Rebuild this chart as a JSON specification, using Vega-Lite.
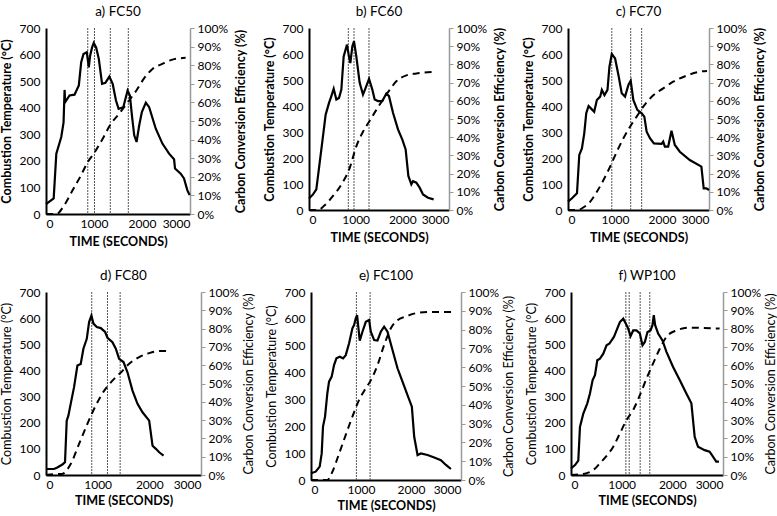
{
"$schema": "https://vega.github.io/schema/vega-lite/v6.json",
"background": "white",
"padding": {"left": 0, "top": 4, "right": 0, "bottom": 0},
"spacing": 20,
"config": {
  "view": {"stroke": null},
  "font": "Lato",
  "axis": {"labelFont": "Lato", "titleFont": "Lato", "labelFontSize": 12, "titleFontSize": 12.5, "labelColor": "black", "titleColor": "black", "grid": false},
  "axisX": {"format": "d"},
  "axisRight": {"titleBaseline": "top"},
  "title": {"font": "Lato", "fontSize": 13.5, "fontWeight": "normal", "color": "black", "offset": 4},
  "concat": {"spacing": 16}
},
"datasets": {
"temp": [
{"p":"a","t":0,"v":37},{"p":"a","t":160,"v":59},{"p":"a","t":215,"v":227},{"p":"a","t":318,"v":290},{"p":"a","t":366,"v":345},{"p":"a","t":387,"v":467},{"p":"a","t":400,"v":421},{"p":"a","t":490,"v":446},{"p":"a","t":594,"v":449},{"p":"a","t":684,"v":484},{"p":"a","t":733,"v":571},{"p":"a","t":781,"v":602},{"p":"a","t":850,"v":609},{"p":"a","t":891,"v":552},{"p":"a","t":919,"v":596},{"p":"a","t":960,"v":627},{"p":"a","t":995,"v":644},{"p":"a","t":1044,"v":627},{"p":"a","t":1100,"v":584},{"p":"a","t":1168,"v":490},{"p":"a","t":1237,"v":494},{"p":"a","t":1320,"v":517},{"p":"a","t":1389,"v":490},{"p":"a","t":1458,"v":427},{"p":"a","t":1513,"v":396},{"p":"a","t":1610,"v":402},{"p":"a","t":1700,"v":465},{"p":"a","t":1748,"v":446},{"p":"a","t":1790,"v":371},{"p":"a","t":1838,"v":296},{"p":"a","t":1887,"v":271},{"p":"a","t":1942,"v":334},{"p":"a","t":1997,"v":384},{"p":"a","t":2080,"v":419},{"p":"a","t":2149,"v":402},{"p":"a","t":2287,"v":321},{"p":"a","t":2425,"v":265},{"p":"a","t":2564,"v":227},{"p":"a","t":2668,"v":206},{"p":"a","t":2688,"v":171},{"p":"a","t":2806,"v":152},{"p":"a","t":2875,"v":134},{"p":"a","t":2944,"v":90},{"p":"a","t":2992,"v":71},
{"p":"b","t":0,"v":44},{"p":"b","t":86,"v":60},{"p":"b","t":157,"v":79},{"p":"b","t":229,"v":182},{"p":"b","t":300,"v":284},{"p":"b","t":357,"v":367},{"p":"b","t":429,"v":412},{"p":"b","t":479,"v":438},{"p":"b","t":529,"v":466},{"p":"b","t":586,"v":425},{"p":"b","t":643,"v":431},{"p":"b","t":693,"v":463},{"p":"b","t":743,"v":591},{"p":"b","t":814,"v":636},{"p":"b","t":857,"v":590},{"p":"b","t":886,"v":565},{"p":"b","t":929,"v":630},{"p":"b","t":964,"v":649},{"p":"b","t":1014,"v":591},{"p":"b","t":1086,"v":489},{"p":"b","t":1157,"v":444},{"p":"b","t":1214,"v":470},{"p":"b","t":1286,"v":504},{"p":"b","t":1357,"v":463},{"p":"b","t":1407,"v":425},{"p":"b","t":1479,"v":419},{"p":"b","t":1571,"v":419},{"p":"b","t":1657,"v":448},{"p":"b","t":1714,"v":438},{"p":"b","t":1800,"v":374},{"p":"b","t":1907,"v":310},{"p":"b","t":2000,"v":271},{"p":"b","t":2071,"v":233},{"p":"b","t":2129,"v":131},{"p":"b","t":2193,"v":99},{"p":"b","t":2229,"v":111},{"p":"b","t":2300,"v":105},{"p":"b","t":2371,"v":86},{"p":"b","t":2443,"v":60},{"p":"b","t":2550,"v":47},{"p":"b","t":2671,"v":41},
{"p":"c","t":0,"v":32},{"p":"c","t":85,"v":45},{"p":"c","t":191,"v":64},{"p":"c","t":240,"v":212},{"p":"c","t":296,"v":237},{"p":"c","t":346,"v":295},{"p":"c","t":388,"v":372},{"p":"c","t":438,"v":400},{"p":"c","t":508,"v":387},{"p":"c","t":557,"v":378},{"p":"c","t":614,"v":423},{"p":"c","t":685,"v":436},{"p":"c","t":720,"v":462},{"p":"c","t":776,"v":442},{"p":"c","t":840,"v":462},{"p":"c","t":882,"v":551},{"p":"c","t":932,"v":600},{"p":"c","t":1002,"v":583},{"p":"c","t":1073,"v":519},{"p":"c","t":1143,"v":449},{"p":"c","t":1214,"v":436},{"p":"c","t":1285,"v":481},{"p":"c","t":1334,"v":497},{"p":"c","t":1390,"v":423},{"p":"c","t":1475,"v":385},{"p":"c","t":1567,"v":372},{"p":"c","t":1624,"v":359},{"p":"c","t":1673,"v":301},{"p":"c","t":1744,"v":276},{"p":"c","t":1828,"v":256},{"p":"c","t":1991,"v":254},{"p":"c","t":2026,"v":263},{"p":"c","t":2061,"v":244},{"p":"c","t":2132,"v":244},{"p":"c","t":2202,"v":305},{"p":"c","t":2273,"v":250},{"p":"c","t":2379,"v":224},{"p":"c","t":2591,"v":192},{"p":"c","t":2838,"v":167},{"p":"c","t":2887,"v":83},{"p":"c","t":2944,"v":83},{"p":"c","t":3000,"v":77},
{"p":"d","t":0,"v":23},{"p":"d","t":155,"v":23},{"p":"d","t":220,"v":29},{"p":"d","t":317,"v":40},{"p":"d","t":368,"v":49},{"p":"d","t":401,"v":208},{"p":"d","t":433,"v":227},{"p":"d","t":478,"v":272},{"p":"d","t":543,"v":336},{"p":"d","t":608,"v":419},{"p":"d","t":672,"v":425},{"p":"d","t":724,"v":483},{"p":"d","t":789,"v":521},{"p":"d","t":834,"v":585},{"p":"d","t":879,"v":610},{"p":"d","t":918,"v":579},{"p":"d","t":983,"v":566},{"p":"d","t":1060,"v":562},{"p":"d","t":1144,"v":547},{"p":"d","t":1190,"v":525},{"p":"d","t":1286,"v":508},{"p":"d","t":1351,"v":483},{"p":"d","t":1415,"v":444},{"p":"d","t":1500,"v":432},{"p":"d","t":1577,"v":393},{"p":"d","t":1674,"v":323},{"p":"d","t":1771,"v":272},{"p":"d","t":1868,"v":240},{"p":"d","t":1997,"v":208},{"p":"d","t":2062,"v":112},{"p":"d","t":2127,"v":100},{"p":"d","t":2191,"v":87},{"p":"d","t":2275,"v":74},
{"p":"e","t":0,"v":25},{"p":"e","t":94,"v":31},{"p":"e","t":174,"v":50},{"p":"e","t":214,"v":99},{"p":"e","t":240,"v":199},{"p":"e","t":281,"v":236},{"p":"e","t":327,"v":323},{"p":"e","t":361,"v":366},{"p":"e","t":414,"v":385},{"p":"e","t":461,"v":428},{"p":"e","t":508,"v":453},{"p":"e","t":574,"v":459},{"p":"e","t":641,"v":453},{"p":"e","t":695,"v":465},{"p":"e","t":762,"v":509},{"p":"e","t":828,"v":565},{"p":"e","t":862,"v":577},{"p":"e","t":895,"v":602},{"p":"e","t":922,"v":614},{"p":"e","t":949,"v":565},{"p":"e","t":975,"v":519},{"p":"e","t":1029,"v":552},{"p":"e","t":1096,"v":589},{"p":"e","t":1162,"v":596},{"p":"e","t":1196,"v":552},{"p":"e","t":1263,"v":521},{"p":"e","t":1329,"v":519},{"p":"e","t":1396,"v":552},{"p":"e","t":1463,"v":571},{"p":"e","t":1530,"v":552},{"p":"e","t":1630,"v":484},{"p":"e","t":1730,"v":416},{"p":"e","t":1830,"v":366},{"p":"e","t":1930,"v":316},{"p":"e","t":2017,"v":273},{"p":"e","t":2064,"v":161},{"p":"e","t":2131,"v":93},{"p":"e","t":2198,"v":99},{"p":"e","t":2331,"v":93},{"p":"e","t":2465,"v":84},{"p":"e","t":2598,"v":74},{"p":"e","t":2699,"v":56},{"p":"e","t":2799,"v":41},
{"p":"f","t":0,"v":25},{"p":"f","t":79,"v":38},{"p":"f","t":144,"v":55},{"p":"f","t":177,"v":184},{"p":"f","t":243,"v":235},{"p":"f","t":322,"v":274},{"p":"f","t":374,"v":312},{"p":"f","t":427,"v":363},{"p":"f","t":473,"v":382},{"p":"f","t":519,"v":439},{"p":"f","t":571,"v":445},{"p":"f","t":637,"v":464},{"p":"f","t":702,"v":496},{"p":"f","t":755,"v":502},{"p":"f","t":801,"v":515},{"p":"f","t":847,"v":528},{"p":"f","t":913,"v":560},{"p":"f","t":965,"v":585},{"p":"f","t":1031,"v":598},{"p":"f","t":1083,"v":579},{"p":"f","t":1129,"v":560},{"p":"f","t":1175,"v":531},{"p":"f","t":1227,"v":553},{"p":"f","t":1293,"v":553},{"p":"f","t":1359,"v":541},{"p":"f","t":1411,"v":496},{"p":"f","t":1457,"v":509},{"p":"f","t":1510,"v":547},{"p":"f","t":1569,"v":553},{"p":"f","t":1608,"v":573},{"p":"f","t":1634,"v":611},{"p":"f","t":1661,"v":573},{"p":"f","t":1720,"v":541},{"p":"f","t":1805,"v":515},{"p":"f","t":1884,"v":471},{"p":"f","t":2015,"v":413},{"p":"f","t":2146,"v":363},{"p":"f","t":2277,"v":312},{"p":"f","t":2376,"v":274},{"p":"f","t":2441,"v":146},{"p":"f","t":2507,"v":108},{"p":"f","t":2638,"v":95},{"p":"f","t":2736,"v":89},{"p":"f","t":2802,"v":70},{"p":"f","t":2867,"v":51},{"p":"f","t":2920,"v":51}
],
"cce": [
{"p":"a","t":0,"v":0},{"p":"a","t":214,"v":0},{"p":"a","t":387,"v":0.05},{"p":"a","t":560,"v":0.13},{"p":"a","t":733,"v":0.21},{"p":"a","t":871,"v":0.28},{"p":"a","t":1009,"v":0.33},{"p":"a","t":1182,"v":0.405},{"p":"a","t":1355,"v":0.486},{"p":"a","t":1527,"v":0.54},{"p":"a","t":1700,"v":0.6},{"p":"a","t":1873,"v":0.66},{"p":"a","t":2046,"v":0.73},{"p":"a","t":2218,"v":0.78},{"p":"a","t":2425,"v":0.807},{"p":"a","t":2633,"v":0.83},{"p":"a","t":2909,"v":0.84},
{"p":"b","t":0,"v":0},{"p":"b","t":193,"v":0},{"p":"b","t":336,"v":0.026},{"p":"b","t":514,"v":0.077},{"p":"b","t":693,"v":0.14},{"p":"b","t":871,"v":0.23},{"p":"b","t":1014,"v":0.35},{"p":"b","t":1157,"v":0.43},{"p":"b","t":1300,"v":0.49},{"p":"b","t":1443,"v":0.55},{"p":"b","t":1586,"v":0.607},{"p":"b","t":1729,"v":0.66},{"p":"b","t":1871,"v":0.707},{"p":"b","t":2086,"v":0.74},{"p":"b","t":2300,"v":0.75},{"p":"b","t":2657,"v":0.759},
{"p":"c","t":0,"v":0},{"p":"c","t":200,"v":0},{"p":"c","t":332,"v":0.015},{"p":"c","t":473,"v":0.046},{"p":"c","t":614,"v":0.1},{"p":"c","t":755,"v":0.165},{"p":"c","t":896,"v":0.238},{"p":"c","t":1037,"v":0.32},{"p":"c","t":1179,"v":0.394},{"p":"c","t":1320,"v":0.458},{"p":"c","t":1461,"v":0.513},{"p":"c","t":1602,"v":0.568},{"p":"c","t":1814,"v":0.63},{"p":"c","t":2026,"v":0.668},{"p":"c","t":2238,"v":0.705},{"p":"c","t":2520,"v":0.738},{"p":"c","t":2802,"v":0.76},{"p":"c","t":2958,"v":0.764},
{"p":"d","t":0,"v":0},{"p":"d","t":187,"v":0.005},{"p":"d","t":300,"v":0.005},{"p":"d","t":478,"v":0.06},{"p":"d","t":640,"v":0.17},{"p":"d","t":802,"v":0.28},{"p":"d","t":963,"v":0.38},{"p":"d","t":1125,"v":0.46},{"p":"d","t":1286,"v":0.516},{"p":"d","t":1448,"v":0.56},{"p":"d","t":1610,"v":0.608},{"p":"d","t":1804,"v":0.644},{"p":"d","t":1997,"v":0.666},{"p":"d","t":2191,"v":0.677},{"p":"d","t":2385,"v":0.677},
{"p":"e","t":0,"v":0},{"p":"e","t":327,"v":0},{"p":"e","t":428,"v":0.044},{"p":"e","t":561,"v":0.14},{"p":"e","t":695,"v":0.24},{"p":"e","t":828,"v":0.337},{"p":"e","t":962,"v":0.426},{"p":"e","t":1096,"v":0.488},{"p":"e","t":1196,"v":0.53},{"p":"e","t":1329,"v":0.61},{"p":"e","t":1463,"v":0.718},{"p":"e","t":1597,"v":0.807},{"p":"e","t":1730,"v":0.85},{"p":"e","t":1897,"v":0.87},{"p":"e","t":2097,"v":0.887},{"p":"e","t":2364,"v":0.894},{"p":"e","t":2699,"v":0.894},{"p":"e","t":2899,"v":0.894},
{"p":"f","t":0,"v":0},{"p":"f","t":308,"v":0.01},{"p":"f","t":440,"v":0.027},{"p":"f","t":571,"v":0.064},{"p":"f","t":702,"v":0.104},{"p":"f","t":834,"v":0.155},{"p":"f","t":965,"v":0.227},{"p":"f","t":1096,"v":0.3},{"p":"f","t":1227,"v":0.355},{"p":"f","t":1359,"v":0.436},{"p":"f","t":1490,"v":0.527},{"p":"f","t":1621,"v":0.61},{"p":"f","t":1752,"v":0.69},{"p":"f","t":1884,"v":0.755},{"p":"f","t":2080,"v":0.79},{"p":"f","t":2343,"v":0.805},{"p":"f","t":2605,"v":0.804},{"p":"f","t":2933,"v":0.8}
],
"vl": [
{"p":"a","t":870},{"p":"a","t":1010},{"p":"a","t":1340},{"p":"a","t":1715},
{"p":"b","t":843},{"p":"b","t":964},{"p":"b","t":1286},
{"p":"c","t":932},{"p":"c","t":1334},{"p":"c","t":1567},
{"p":"d","t":885},{"p":"d","t":1190},{"p":"d","t":1435},
{"p":"e","t":908},{"p":"e","t":1182},
{"p":"f","t":1083},{"p":"f","t":1149},{"p":"f","t":1365},{"p":"f","t":1555}
]
},
"vconcat": [
{"hconcat": [
{"width": 144, "height": 186, "title": "a) FC50",
 "layer": [
  {"data": {"name": "vl"}, "transform": [{"filter": "datum.p == 'a'"}], "mark": {"type": "rule", "color": "#555", "strokeWidth": 1, "strokeDash": [2, 1]}, "encoding": {"x": {"field": "t", "type": "quantitative", "scale": {"domain": [0, 3000]}}}},
  {"data": {"name": "temp"}, "transform": [{"filter": "datum.p == 'a'"}], "mark": {"type": "line", "color": "black", "strokeWidth": 2.2}, "encoding": {
    "x": {"field": "t", "type": "quantitative", "scale": {"domain": [0, 3000]}, "axis": {"values": [0, 1000, 2000, 3000], "ticks": false, "domainColor": "black", "domainWidth": 2, "title": "TIME (SECONDS)", "titleFontWeight": "bold", "labelPadding": 4, "titlePadding": 6}},
    "y": {"field": "v", "type": "quantitative", "scale": {"domain": [0, 700]}, "axis": {"orient": "left", "values": [0,100,200,300,400,500,600,700], "ticks": false, "domainColor": "black", "domainWidth": 2, "labelPadding": 6, "title": "Combustion Temperature (°C)", "titleFontWeight": "bold", "titlePadding": 6}}}},
  {"data": {"name": "cce"}, "transform": [{"filter": "datum.p == 'a'"}], "mark": {"type": "line", "color": "black", "strokeWidth": 2, "strokeDash": [7, 5], "interpolate": "monotone"}, "encoding": {
    "x": {"field": "t", "type": "quantitative"},
    "y": {"field": "v", "type": "quantitative", "scale": {"domain": [0, 1]}, "axis": {"orient": "right", "values": [0,0.1,0.2,0.3,0.4,0.5,0.6,0.7,0.8,0.9,1], "format": ".0%", "domainColor": "#999", "domainWidth": 1.5, "tickColor": "#999", "tickSize": 4, "labelPadding": 3, "title": "Carbon Conversion Efficiency (%)", "titleFontWeight": "bold", "titleAngle": 270, "titleBaseline": "top", "titlePadding": 7}}}}
 ],
 "resolve": {"scale": {"y": "independent"}}},
{"width": 140, "height": 182, "title": "b) FC60",
 "layer": [
  {"data": {"name": "vl"}, "transform": [{"filter": "datum.p == 'b'"}], "mark": {"type": "rule", "color": "#555", "strokeWidth": 1, "strokeDash": [2, 1]}, "encoding": {"x": {"field": "t", "type": "quantitative", "scale": {"domain": [0, 3000]}}}},
  {"data": {"name": "temp"}, "transform": [{"filter": "datum.p == 'b'"}], "mark": {"type": "line", "color": "black", "strokeWidth": 2.2}, "encoding": {
    "x": {"field": "t", "type": "quantitative", "scale": {"domain": [0, 3000]}, "axis": {"values": [0, 1000, 2000, 3000], "ticks": false, "domainColor": "black", "domainWidth": 2, "title": "TIME (SECONDS)", "titleFontWeight": "bold", "labelPadding": 4, "titlePadding": 6}},
    "y": {"field": "v", "type": "quantitative", "scale": {"domain": [0, 700]}, "axis": {"orient": "left", "values": [0,100,200,300,400,500,600,700], "ticks": false, "domainColor": "black", "domainWidth": 2, "labelPadding": 6, "title": "Combustion Temperature (°C)", "titleFontWeight": "bold", "titlePadding": 6}}}},
  {"data": {"name": "cce"}, "transform": [{"filter": "datum.p == 'b'"}], "mark": {"type": "line", "color": "black", "strokeWidth": 2, "strokeDash": [7, 5], "interpolate": "monotone"}, "encoding": {
    "x": {"field": "t", "type": "quantitative"},
    "y": {"field": "v", "type": "quantitative", "scale": {"domain": [0, 1]}, "axis": {"orient": "right", "values": [0,0.1,0.2,0.3,0.4,0.5,0.6,0.7,0.8,0.9,1], "format": ".0%", "domainColor": "#999", "domainWidth": 1.5, "tickColor": "#999", "tickSize": 4, "labelPadding": 3, "title": "Carbon Conversion Efficiency (%)", "titleFontWeight": "bold", "titleAngle": 270, "titleBaseline": "top", "titlePadding": 7}}}}
 ],
 "resolve": {"scale": {"y": "independent"}}},
{"width": 141, "height": 182, "title": "c) FC70",
 "layer": [
  {"data": {"name": "vl"}, "transform": [{"filter": "datum.p == 'c'"}], "mark": {"type": "rule", "color": "#555", "strokeWidth": 1, "strokeDash": [2, 1]}, "encoding": {"x": {"field": "t", "type": "quantitative", "scale": {"domain": [0, 3000]}}}},
  {"data": {"name": "temp"}, "transform": [{"filter": "datum.p == 'c'"}], "mark": {"type": "line", "color": "black", "strokeWidth": 2.2}, "encoding": {
    "x": {"field": "t", "type": "quantitative", "scale": {"domain": [0, 3000]}, "axis": {"values": [0, 1000, 2000, 3000], "ticks": false, "domainColor": "black", "domainWidth": 2, "title": "TIME (SECONDS)", "titleFontWeight": "bold", "labelPadding": 4, "titlePadding": 6}},
    "y": {"field": "v", "type": "quantitative", "scale": {"domain": [0, 700]}, "axis": {"orient": "left", "values": [0,100,200,300,400,500,600,700], "ticks": false, "domainColor": "black", "domainWidth": 2, "labelPadding": 6, "title": "Combustion Temperature (°C)", "titleFontWeight": "bold", "titlePadding": 6}}}},
  {"data": {"name": "cce"}, "transform": [{"filter": "datum.p == 'c'"}], "mark": {"type": "line", "color": "black", "strokeWidth": 2, "strokeDash": [7, 5], "interpolate": "monotone"}, "encoding": {
    "x": {"field": "t", "type": "quantitative"},
    "y": {"field": "v", "type": "quantitative", "scale": {"domain": [0, 1]}, "axis": {"orient": "right", "values": [0,0.1,0.2,0.3,0.4,0.5,0.6,0.7,0.8,0.9,1], "format": ".0%", "domainColor": "#999", "domainWidth": 1.5, "tickColor": "#999", "tickSize": 4, "labelPadding": 3, "title": "Carbon Conversion Efficiency (%)", "titleFontWeight": "bold", "titleAngle": 270, "titleBaseline": "top", "titlePadding": 7}}}}
 ],
 "resolve": {"scale": {"y": "independent"}}}
]},
{"spacing": 10, "hconcat": [
{"width": 155, "height": 183, "title": "d) FC80",
 "layer": [
  {"data": {"name": "vl"}, "transform": [{"filter": "datum.p == 'd'"}], "mark": {"type": "rule", "color": "#555", "strokeWidth": 1, "strokeDash": [2, 1]}, "encoding": {"x": {"field": "t", "type": "quantitative", "scale": {"domain": [0, 3000]}}}},
  {"data": {"name": "temp"}, "transform": [{"filter": "datum.p == 'd'"}], "mark": {"type": "line", "color": "black", "strokeWidth": 2.2}, "encoding": {
    "x": {"field": "t", "type": "quantitative", "scale": {"domain": [0, 3000]}, "axis": {"values": [0, 1000, 2000, 3000], "ticks": false, "domainColor": "black", "domainWidth": 2, "title": "TIME (SECONDS)", "titleFontWeight": "bold", "labelPadding": 4, "titlePadding": 4}},
    "y": {"field": "v", "type": "quantitative", "scale": {"domain": [0, 700]}, "axis": {"orient": "left", "values": [0,100,200,300,400,500,600,700], "ticks": false, "domainColor": "black", "domainWidth": 2, "labelPadding": 6, "title": "Combustion Temperature (°C)", "titleFontWeight": "normal", "titlePadding": 6}}}},
  {"data": {"name": "cce"}, "transform": [{"filter": "datum.p == 'd'"}], "mark": {"type": "line", "color": "black", "strokeWidth": 2, "strokeDash": [7, 5], "interpolate": "monotone"}, "encoding": {
    "x": {"field": "t", "type": "quantitative"},
    "y": {"field": "v", "type": "quantitative", "scale": {"domain": [0, 1]}, "axis": {"orient": "right", "values": [0,0.1,0.2,0.3,0.4,0.5,0.6,0.7,0.8,0.9,1], "format": ".0%", "domainColor": "#999", "domainWidth": 1.5, "tickColor": "#999", "tickSize": 4, "labelPadding": 3, "title": "Carbon Conversion Efficiency (%)", "titleFontWeight": "normal", "titleAngle": 270, "titleBaseline": "top", "titlePadding": 4}}}}
 ],
 "resolve": {"scale": {"y": "independent"}}},
{"width": 150, "height": 188, "title": "e) FC100",
 "layer": [
  {"data": {"name": "vl"}, "transform": [{"filter": "datum.p == 'e'"}], "mark": {"type": "rule", "color": "#555", "strokeWidth": 1, "strokeDash": [2, 1]}, "encoding": {"x": {"field": "t", "type": "quantitative", "scale": {"domain": [0, 3000]}}}},
  {"data": {"name": "temp"}, "transform": [{"filter": "datum.p == 'e'"}], "mark": {"type": "line", "color": "black", "strokeWidth": 2.2}, "encoding": {
    "x": {"field": "t", "type": "quantitative", "scale": {"domain": [0, 3000]}, "axis": {"values": [0, 1000, 2000, 3000], "ticks": false, "domainColor": "black", "domainWidth": 2, "title": "TIME (SECONDS)", "titleFontWeight": "bold", "labelPadding": 4, "titlePadding": 4}},
    "y": {"field": "v", "type": "quantitative", "scale": {"domain": [0, 700]}, "axis": {"orient": "left", "values": [0,100,200,300,400,500,600,700], "ticks": false, "domainColor": "black", "domainWidth": 2, "labelPadding": 6, "title": "Combustion Temperature (°C)", "titleFontWeight": "normal", "titlePadding": 6}}}},
  {"data": {"name": "cce"}, "transform": [{"filter": "datum.p == 'e'"}], "mark": {"type": "line", "color": "black", "strokeWidth": 2, "strokeDash": [7, 5], "interpolate": "monotone"}, "encoding": {
    "x": {"field": "t", "type": "quantitative"},
    "y": {"field": "v", "type": "quantitative", "scale": {"domain": [0, 1]}, "axis": {"orient": "right", "values": [0,0.1,0.2,0.3,0.4,0.5,0.6,0.7,0.8,0.9,1], "format": ".0%", "domainColor": "#999", "domainWidth": 1.5, "tickColor": "#999", "tickSize": 4, "labelPadding": 3, "title": "Carbon Conversion Efficiency (%)", "titleFontWeight": "normal", "titleAngle": 270, "titleBaseline": "top", "titlePadding": 4}}}}
 ],
 "resolve": {"scale": {"y": "independent"}}},
{"width": 152, "height": 183, "title": "f) WP100",
 "layer": [
  {"data": {"name": "vl"}, "transform": [{"filter": "datum.p == 'f'"}], "mark": {"type": "rule", "color": "#555", "strokeWidth": 1, "strokeDash": [2, 1]}, "encoding": {"x": {"field": "t", "type": "quantitative", "scale": {"domain": [0, 3000]}}}},
  {"data": {"name": "temp"}, "transform": [{"filter": "datum.p == 'f'"}], "mark": {"type": "line", "color": "black", "strokeWidth": 2.2}, "encoding": {
    "x": {"field": "t", "type": "quantitative", "scale": {"domain": [0, 3000]}, "axis": {"values": [0, 1000, 2000, 3000], "ticks": false, "domainColor": "black", "domainWidth": 2, "title": "TIME (SECONDS)", "titleFontWeight": "bold", "labelPadding": 4, "titlePadding": 4}},
    "y": {"field": "v", "type": "quantitative", "scale": {"domain": [0, 700]}, "axis": {"orient": "left", "values": [0,100,200,300,400,500,600,700], "ticks": false, "domainColor": "black", "domainWidth": 2, "labelPadding": 6, "title": "Combustion Temperature (°C)", "titleFontWeight": "normal", "titlePadding": 6}}}},
  {"data": {"name": "cce"}, "transform": [{"filter": "datum.p == 'f'"}], "mark": {"type": "line", "color": "black", "strokeWidth": 2, "strokeDash": [7, 5], "interpolate": "monotone"}, "encoding": {
    "x": {"field": "t", "type": "quantitative"},
    "y": {"field": "v", "type": "quantitative", "scale": {"domain": [0, 1]}, "axis": {"orient": "right", "values": [0,0.1,0.2,0.3,0.4,0.5,0.6,0.7,0.8,0.9,1], "format": ".0%", "domainColor": "#999", "domainWidth": 1.5, "tickColor": "#999", "tickSize": 4, "labelPadding": 3, "title": "Carbon Conversion Efficiency (%)", "titleFontWeight": "normal", "titleAngle": 270, "titleBaseline": "top", "titlePadding": 4}}}}
 ],
 "resolve": {"scale": {"y": "independent"}}}
]}
]
}
